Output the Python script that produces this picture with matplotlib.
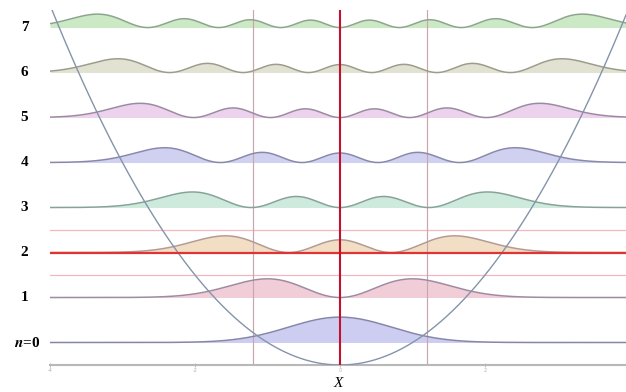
import numpy as np
import matplotlib
matplotlib.use("Agg")
import matplotlib.pyplot as plt
from numpy.polynomial.hermite import hermval
from math import factorial, pi, sqrt

plt.rcParams["mathtext.fontset"] = "stix"

# ---- data ----
levels = [0, 1, 2, 3, 4, 5, 6, 7]                 # quantum numbers n
energies = [0.5, 1.5, 2.5, 3.5, 4.5, 5.5, 6.5, 7.5]  # E_n = n + 1/2
level_labels = ["n=0", "1", "2", "3", "4", "5", "6", "7"]
highlight_level = 2
band_limits = [2.0, 3.0]
turning_lines = [-1.2, 1.2]
xticks = [-4, -2, 0, 2]
xtick_labels = ["-4", "-2", "0", "2"]

fill_colors = ["#cdcdf2", "#f1cdd8", "#f2dec4", "#cdeadd",
               "#d0d0f0", "#ecd2ec", "#e2e2d2", "#cbe9c5"]
line_colors = ["#8686a8", "#a08aa2", "#b49a92", "#88a29a",
               "#8888ac", "#9c8aa2", "#9c9c8c", "#8ea48e"]

# ---- figure ----
fig = plt.figure(figsize=(6.26, 3.92), dpi=100)
ax = fig.add_axes([50/626, 27/392, 576.4/626, 355/392])
x = np.linspace(-4, 3.95, 1200)
ax.set_xlim(-4, 3.95)
ax.set_ylim(0, 7.89)

def prob(n, x):
    c = np.zeros(n + 1); c[n] = 1
    psi = hermval(x, c) * np.exp(-x**2 / 2) / sqrt(2**n * factorial(n) * sqrt(pi))
    return psi**2

for n, E, fc in zip(levels, energies, fill_colors):
    ax.fill_between(x, E, E + prob(n, x), color=fc, lw=0, zorder=1)

for b in band_limits:
    ax.axhline(b, color="#f2b8c0", lw=0.9, zorder=2)
for t in turning_lines:
    ax.axvline(t, color="#e8b0b8", lw=0.9, zorder=2)
    ax.axvline(t, color="#a8a0a8", lw=0.4, zorder=2)

for n, E, lc in zip(levels, energies, line_colors):
    ax.plot(x, E + prob(n, x), color=lc, lw=1.1, zorder=3)

ax.plot(x, x**2 / 2, color="#8494aa", lw=1.0, zorder=4)

ax.axhline(energies[highlight_level], color="#e03434", lw=1.6, zorder=5)
ax.axvline(0, color="#c4102c", lw=1.5, zorder=6)

for n, E, lab in zip(levels, energies, level_labels):
    if n == 0:
        ax.text(-4.14, E, r"$\mathbfit{n}$=0", ha="right", va="center",
                fontsize=11, fontweight="bold", family="Liberation Serif")
    else:
        ax.text(-4.35, E, lab, ha="center", va="center", fontsize=11,
                fontweight="bold", family="Liberation Serif")

for s in ["top", "right", "left"]:
    ax.spines[s].set_visible(False)
ax.spines["bottom"].set_color("#b8b8b8")
ax.spines["bottom"].set_linewidth(1.5)
ax.set_yticks([])
ax.set_xticks(xticks)
ax.set_xticklabels(xtick_labels, fontsize=3.5, color="#b0b0b0")
ax.tick_params(axis="x", direction="inout", length=3, color="#c0c0c0", pad=1)
ax.set_xlabel("X", fontsize=11, style="italic", family="Liberation Serif", labelpad=2.5)

fig.savefig("out.png", dpi=100)
